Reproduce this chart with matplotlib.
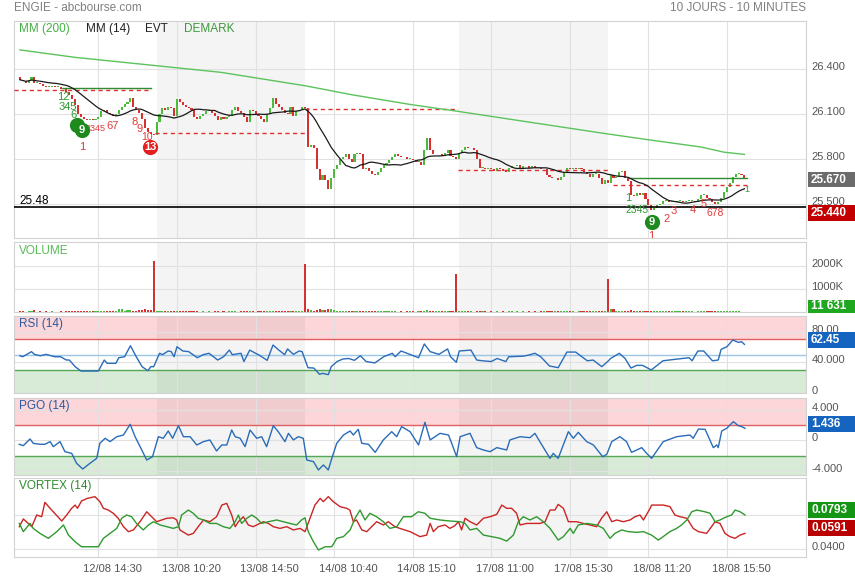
import numpy as np
import pandas as pd
import matplotlib
matplotlib.use("Agg")
import matplotlib.pyplot as plt
from matplotlib.patches import Rectangle
from matplotlib.transforms import ScaledTranslation

plt.rcParams['font.family'] = ['Liberation Sans', 'DejaVu Sans']

# ---------------- data ----------------
first_bar = 6
open0 = 26.35
closes = [
    26.33, 26.32, 26.31, 26.33, 26.35, 26.31, 26.31, 26.30, 26.29, 26.28,
    26.28, 26.29, 26.28, 26.28, 26.27, 26.27, 26.25, 26.23, 26.20, 26.16,
    26.10, 26.08, 26.07, 26.06, 26.07, 26.06, 26.07, 26.08, 26.12, 26.13,
    26.11, 26.10, 26.09, 26.10, 26.13, 26.15, 26.17, 26.18, 26.21, 26.15,
    26.13, 26.11, 26.07, 26.01, 25.98, 25.97, 25.96, 26.05, 26.10, 26.14,
    26.13, 26.15, 26.14, 26.09, 26.20, 26.18, 26.16, 26.15, 26.14, 26.13,
    26.08, 26.07, 26.09, 26.10, 26.12, 26.12, 26.11, 26.09, 26.06, 26.08,
    26.07, 26.08, 26.09, 26.13, 26.15, 26.12, 26.11, 26.08, 26.05, 26.13,
    26.12, 26.10, 26.09, 26.07, 26.05, 26.10, 26.14, 26.21, 26.17, 26.15,
    26.13, 26.11, 26.10, 26.15, 26.09, 26.12, 26.13, 26.15, 26.14, 25.88,
    25.89, 25.87, 25.73, 25.66, 25.69, 25.66, 25.60, 25.67, 25.73, 25.76,
    25.80, 25.81, 25.83, 25.80, 25.78, 25.83, 25.84, 25.83, 25.73, 25.74,
    25.72, 25.70, 25.69, 25.71, 25.74, 25.76, 25.77, 25.79, 25.81, 25.83,
    25.82, 25.81, 25.81, 25.80, 25.80, 25.79, 25.78, 25.78, 25.76, 25.86,
    25.94, 25.86, 25.83, 25.83, 25.83, 25.82, 25.84, 25.86, 25.82, 25.81,
    25.80, 25.84, 25.86, 25.88, 25.87, 25.87, 25.86, 25.80, 25.74, 25.74,
    25.73, 25.74, 25.73, 25.72, 25.74, 25.73, 25.72, 25.71, 25.74, 25.75,
    25.75, 25.76, 25.74, 25.75, 25.75, 25.74, 25.75, 25.74, 25.74, 25.73,
    25.73, 25.69, 25.68, 25.67, 25.67, 25.66, 25.68, 25.71, 25.74, 25.73,
    25.74, 25.73, 25.74, 25.73, 25.71, 25.70, 25.68, 25.70, 25.70, 25.67,
    25.63, 25.66, 25.64, 25.69, 25.67, 25.68, 25.71, 25.72, 25.67, 25.65,
    25.56, 25.55, 25.57, 25.56, 25.57, 25.53, 25.49, 25.46, 25.47, 25.49,
    25.50, 25.52, 25.52, 25.51, 25.51, 25.51, 25.52, 25.52, 25.51, 25.52,
    25.52, 25.52, 25.51, 25.53, 25.56, 25.56, 25.54, 25.53, 25.51, 25.50,
    25.51, 25.54, 25.58, 25.61, 25.64, 25.68, 25.70, 25.70, 25.69, 25.67,
]
volume_k = [
    35, 25, 20, 30, 25, 90, 20, 25, 20, 25,
    20, 25, 15, 20, 25, 20, 30, 35, 45, 55,
    60, 40, 35, 30, 25, 30, 25, 35, 40, 30,
    25, 30, 25, 40, 120, 130, 60, 70, 80, 45,
    55, 70, 85, 110, 95, 80, 2190, 60, 45, 40,
    35, 30, 40, 35, 60, 45, 30, 25, 30, 25,
    35, 25, 20, 25, 20, 25, 20, 30, 25, 20,
    25, 20, 30, 35, 25, 20, 25, 30, 40, 35,
    25, 20, 25, 30, 35, 30, 40, 60, 40, 30,
    25, 30, 25, 35, 40, 25, 30, 35, 2090, 140,
    70, 60, 90, 110, 80, 100, 120, 130, 80, 60,
    50, 45, 40, 35, 30, 40, 35, 30, 50, 35,
    30, 35, 30, 25, 30, 35, 30, 25, 30, 25,
    20, 25, 20, 25, 30, 25, 20, 25, 30, 60,
    70, 50, 35, 30, 25, 30, 25, 30, 25, 30,
    1650, 40, 30, 25, 30, 25, 20, 35, 50, 30,
    25, 20, 25, 20, 25, 20, 25, 20, 30, 25,
    20, 25, 20, 25, 20, 25, 20, 25, 20, 25,
    30, 40, 35, 30, 40, 30, 25, 35, 40, 30,
    25, 20, 25, 30, 25, 30, 35, 30, 25, 40,
    45, 40, 1430, 110, 120, 50, 40, 35, 30, 45,
    70, 50, 40, 35, 30, 35, 45, 50, 40, 35,
    30, 40, 35, 30, 25, 35, 40, 35, 30, 25,
    30, 25, 20, 25, 30, 35, 30, 25, 30, 25,
    30, 35, 40, 45, 35, 30, 25, 30, 20, 11.631,
]

mm200 = [(6, 26.53), (25, 26.48), (50, 26.43), (75, 26.38), (104, 26.29),
         (120, 26.23), (140, 26.165), (156, 26.12), (173, 26.07), (190, 26.02),
         (207, 25.97), (225, 25.92), (240, 25.88), (248, 25.845), (255, 25.83)]

rsi = [(6, 48.6), (7, 47.3), (10, 53.9), (11, 50.4), (13, 48.6), (15, 50.4), (18, 47.3), (20, 47.3),
       (22, 43), (23, 43), (25, 34.3), (27, 28.6), (30, 28.6), (33, 28.6), (35, 43), (36, 38.7),
       (39, 38.7), (40, 46), (42, 47.3), (44, 61.7), (46, 47.3), (48, 34.3), (50, 29), (51, 34.3),
       (52, 34.3), (54, 51.8), (55, 50), (57, 54.8), (58, 54), (59, 47.3), (60, 60.4), (62, 54.8),
       (64, 54), (67, 46), (69, 50), (71, 51.8), (74, 43), (76, 47.3), (78, 56), (79, 50),
       (82, 51.8), (83, 41), (85, 56), (87, 51.8), (88, 50), (91, 42.6), (93, 62.6), (95, 56),
       (97, 50), (98, 57.5), (100, 50.4), (102, 54.8), (103, 54), (105, 33), (107, 32.5), (109, 24.3),
       (110, 25.6), (112, 23.9), (113, 34.3), (115, 41), (117, 44.3), (119, 45), (121, 42.6), (123, 48.6),
       (125, 41), (128, 39.2), (131, 47.3), (134, 51.8), (135, 47.3), (137, 54.8), (140, 50.4), (143, 46),
       (145, 64), (147, 54), (150, 50.4), (153, 57.5), (154, 47.3), (156, 40), (157, 54.8), (161, 56),
       (163, 43), (165, 42), (168, 41), (170, 45), (173, 41), (174, 47.3), (179, 48), (181, 49.6),
       (183, 51.8), (185, 47.3), (188, 35.2), (191, 33), (194, 53.4), (197, 53.4), (201, 42), (203, 43),
       (206, 34.3), (208, 41), (209, 45), (212, 51.8), (214, 45), (216, 32.5), (218, 36), (220, 36),
       (223, 30), (227, 42), (232, 44.3), (236, 46), (237, 42), (239, 54.8), (241, 54.8), (244, 42),
       (246, 43), (247, 57), (249, 60.4), (251, 69.2), (253, 66), (254, 67), (255, 63.5)]

pgo = [(5.8, -0.50), (7.2, -0.68), (9.5, 0.20), (10.6, -0.37), (12.9, -0.50), (14.6, -0.50),
       (16.4, -0.15), (17.5, -0.81), (19.8, -0.15), (21.5, -1.47), (23.8, -1.69), (25.5, -3.0),
       (27.6, -3.75), (30.1, -3.0), (32.4, -2.35), (33.5, -0.37), (35.3, 0.29), (37.0, -0.15),
       (39.3, 0.50), (41.6, 0.72), (43.9, 2.13), (45.6, 0.50), (47.9, -1.25), (49.6, -2.57),
       (51.6, -2.13), (53.6, 0.50), (55.3, 0.29), (57.0, 1.25), (58.5, 0.29), (60.5, 1.95),
       (62.2, 0.50), (64.5, 0.50), (66.8, -0.59), (69.1, -0.15), (71.3, 0.07), (73.6, -1.38),
       (75.4, -0.59), (77.1, -0.59), (78.8, 1.38), (80.0, 0.50), (81.7, 0.29), (83.4, -0.81),
       (85.1, 1.38), (87.4, 0.29), (89.1, 0.50), (90.8, -0.81), (93.1, 1.95), (94.8, 1.16),
       (97.1, -0.15), (98.3, 0.94), (100.0, 0.07), (101.7, 0.50), (103.4, 0.29), (104.6, -2.57),
       (106.9, -2.78), (108.6, -3.88), (110.3, -3.22), (112.0, -3.88), (113.2, -2.35), (114.9, -0.37),
       (117.2, 0.72), (119.5, 1.25), (120.6, 0.72), (122.3, 1.47), (123.5, -0.37), (125.8, -0.50),
       (128.1, -1.56), (130.9, 0.07), (133.8, 1.16), (135.5, 0.50), (137.2, 1.82), (140.1, 1.16),
       (143.0, -0.59), (145.2, 2.39), (147.0, 0.07), (150.4, 0.94), (153.3, 0.72), (154.4, -0.37),
       (156.1, -2.13), (157.3, 0.50), (160.7, 0.94), (163.0, -0.94), (165.3, -1.25), (167.6, -1.47),
       (169.9, -0.94), (173.3, -1.25), (174.4, 0.07), (177.9, 0.50), (181.3, 0.37), (183.0, 0.94),
       (184.7, -0.15), (188.2, -2.35), (189.3, -1.69), (191.0, -2.35), (194.5, 1.16), (196.2, 0.29),
       (197.9, 1.07), (200.8, -0.15), (203.1, -0.59), (206.3, -2.13), (207.7, -1.82), (209.4, -0.15),
       (212.2, 0.50), (214.5, -0.15), (216.2, -1.56), (218.0, -1.25), (219.7, -0.94), (221.4, -1.69),
       (223.1, -2.35), (227.1, -0.15), (231.7, 0.50), (236.3, 0.72), (237.4, 0.29), (239.2, 1.51),
       (241.5, 1.47), (244.3, -0.94), (245.5, -0.59), (246.0, -0.94), (247.2, 1.25), (248.9, 1.60),
       (251.2, 2.48), (252.9, 1.95), (254.1, 1.82), (255.2, 1.60)]

vortex_minus = [
    (5.8, 0.0532), (7.2, 0.0577), (10.1, 0.0532), (11.8, 0.0600), (13.5, 0.0590), (14.6, 0.0674),
    (16.4, 0.0639), (18.7, 0.0596), (20.4, 0.0565), (22.1, 0.0600), (23.8, 0.0639), (25.0, 0.0658),
    (25.8, 0.0639), (27.2, 0.0682), (29.2, 0.0697), (31.8, 0.0707), (33.5, 0.0678), (34.7, 0.0639),
    (36.4, 0.0629), (38.1, 0.0610), (39.8, 0.0581), (41.6, 0.0532), (43.3, 0.0503), (45.0, 0.0513),
    (47.3, 0.0561), (49.6, 0.0619), (51.3, 0.0590), (53.0, 0.0561), (54.7, 0.0571), (56.5, 0.0581),
    (58.7, 0.0584), (59.9, 0.0571), (61.0, 0.0513), (63.9, 0.0483), (65.6, 0.0493), (67.3, 0.0532),
    (69.1, 0.0571), (71.3, 0.0561), (73.6, 0.0590), (75.4, 0.0658), (77.1, 0.0668), (78.8, 0.0600),
    (80.0, 0.0532), (81.1, 0.0561), (82.8, 0.0590), (84.5, 0.0542), (86.2, 0.0532), (89.7, 0.0561),
    (91.4, 0.0551), (93.1, 0.0532), (95.4, 0.0522), (97.7, 0.0532), (100.0, 0.0513), (102.3, 0.0522),
    (104.0, 0.0503), (105.7, 0.0581), (107.4, 0.0658), (109.2, 0.0697), (110.3, 0.0678), (112.0, 0.0707),
    (113.7, 0.0678), (116.0, 0.0649), (118.3, 0.0639), (119.4, 0.0629), (120.6, 0.0561), (121.7, 0.0571),
    (123.5, 0.0513), (125.2, 0.0503), (126.9, 0.0532), (128.6, 0.0561), (130.9, 0.0542), (132.6, 0.0561),
    (134.9, 0.0532), (136.6, 0.0522), (140.1, 0.0503), (143.5, 0.0474), (145.8, 0.0483), (147.0, 0.0551),
    (148.1, 0.0503), (149.8, 0.0532), (152.1, 0.0542), (153.8, 0.0522), (155.5, 0.0538), (156.7, 0.0561),
    (157.8, 0.0513), (159.0, 0.0581), (160.7, 0.0561), (163.0, 0.0542), (165.3, 0.0581), (167.6, 0.0590),
    (169.9, 0.0604), (171.6, 0.0658), (173.3, 0.0639), (175.0, 0.0639), (176.7, 0.0610), (177.9, 0.0542),
    (180.2, 0.0551), (182.5, 0.0551), (184.8, 0.0551), (186.5, 0.0561), (188.2, 0.0629), (189.9, 0.0629),
    (191.0, 0.0662), (192.8, 0.0639), (194.5, 0.0561), (197.4, 0.0561), (199.6, 0.0551), (201.9, 0.0542),
    (204.2, 0.0532), (205.9, 0.0581), (207.7, 0.0619), (209.4, 0.0561), (211.1, 0.0571), (213.4, 0.0561),
    (215.7, 0.0571), (217.4, 0.0590), (219.1, 0.0600), (220.3, 0.0571), (222.6, 0.0639), (223.1, 0.0658),
    (227.1, 0.0658), (229.4, 0.0649), (231.1, 0.0600), (232.9, 0.0590), (235.2, 0.0581), (237.4, 0.0522),
    (239.2, 0.0503), (242.0, 0.0493), (243.7, 0.0532), (244.9, 0.0561), (246.6, 0.0551), (248.3, 0.0493),
    (250.0, 0.0474), (251.8, 0.0464), (253.5, 0.0483), (255.2, 0.0493)]

vortex_plus = [
    (5.8, 0.0551), (7.2, 0.0503), (9.5, 0.0551), (10.6, 0.0522), (12.9, 0.0493), (15.8, 0.0464),
    (18.7, 0.0503), (21.0, 0.0542), (22.7, 0.0483), (25.0, 0.0444), (27.2, 0.0415), (30.1, 0.0415),
    (33.0, 0.0415), (34.7, 0.0464), (37.0, 0.0493), (39.3, 0.0522), (41.0, 0.0581), (42.7, 0.0600),
    (44.4, 0.0590), (46.1, 0.0551), (48.4, 0.0513), (50.2, 0.0542), (51.9, 0.0561), (54.2, 0.0542),
    (56.5, 0.0532), (58.7, 0.0522), (60.5, 0.0532), (61.6, 0.0600), (63.9, 0.0629), (65.6, 0.0610),
    (67.3, 0.0581), (69.1, 0.0571), (71.3, 0.0551), (73.6, 0.0551), (75.9, 0.0532), (78.2, 0.0522),
    (80.0, 0.0561), (81.1, 0.0600), (82.2, 0.0551), (84.0, 0.0581), (85.7, 0.0600), (87.4, 0.0581),
    (89.1, 0.0551), (91.4, 0.0561), (94.3, 0.0571), (96.5, 0.0561), (98.8, 0.0551), (101.1, 0.0542),
    (102.8, 0.0571), (104.0, 0.0584), (105.1, 0.0503), (106.9, 0.0444), (108.6, 0.0396), (110.9, 0.0415),
    (113.2, 0.0415), (114.9, 0.0464), (117.2, 0.0474), (119.5, 0.0513), (121.2, 0.0581), (122.9, 0.0629),
    (124.6, 0.0571), (126.3, 0.0610), (128.6, 0.0590), (130.9, 0.0561), (133.2, 0.0522), (135.5, 0.0532),
    (137.8, 0.0590), (140.6, 0.0590), (142.9, 0.0619), (145.2, 0.0610), (147.0, 0.0581), (150.4, 0.0571),
    (153.8, 0.0565), (157.3, 0.0561), (159.0, 0.0551), (160.7, 0.0513), (163.0, 0.0522), (165.3, 0.0483),
    (168.1, 0.0474), (171.0, 0.0464), (173.3, 0.0448), (175.6, 0.0483), (177.3, 0.0561), (179.0, 0.0590),
    (181.3, 0.0571), (183.6, 0.0590), (185.9, 0.0561), (188.2, 0.0522), (191.0, 0.0454), (192.8, 0.0474),
    (195.1, 0.0522), (196.2, 0.0493), (197.9, 0.0542), (200.8, 0.0551), (204.2, 0.0542), (206.5, 0.0522),
    (208.8, 0.0464), (210.5, 0.0493), (212.8, 0.0513), (215.1, 0.0503), (218.0, 0.0499), (220.3, 0.0503),
    (223.1, 0.0483), (225.4, 0.0454), (227.1, 0.0474), (229.4, 0.0503), (231.7, 0.0522), (233.4, 0.0542),
    (235.2, 0.0571), (236.9, 0.0619), (238.6, 0.0629), (241.4, 0.0619), (243.2, 0.0610), (244.9, 0.0561),
    (246.6, 0.0571), (248.9, 0.0590), (250.6, 0.0600), (251.8, 0.0629), (253.5, 0.0619), (255.2, 0.0600)]

# DeMark lines: (start bar, end bar, price, colour key)
demark_lines = [(21, 51, 26.277, 'g'), (4, 51, 26.262, 'r'), (52.5, 104, 25.972, 'r'),
                (104, 156.5, 26.132, 'r'), (156.5, 208.5, 25.726, 'r'),
                (215.5, 256, 25.670, 'g'), (210, 256, 25.625, 'r')]
# DeMark counts: (bar, price, label, font size)
demark_green_txt = [(21.0, 26.215, '12', 8), (22.6, 26.150, '345', 8), (24.6, 26.092, '6', 8),
                    (215.1, 25.538, '1', 8), (218.2, 25.461, '2345', 7.5), (255.8, 25.592, '1', 6.5)]
demark_red_txt = [(27.5, 25.882, '1', 8), (32.0, 26.004, '2345', 6.5), (37.8, 26.020, '67', 8),
                  (45.5, 26.044, '8', 8), (47.1, 26.000, '9', 8), (49.8, 25.947, '10', 7.5),
                  (222.8, 25.287, '1', 8), (228.4, 25.397, '2', 8), (230.6, 25.451, '3', 8),
                  (237.1, 25.458, '4', 8), (241.1, 25.498, '5', 8), (245.0, 25.440, '678', 7.5)]
demark_green_circles = [(25.6, 26.030, ''), (27.4, 25.994, '9'), (223.1, 25.379, '9')]
demark_red_circles = [(50.7, 25.882, '13')]
support_level = 25.48

tick_bars = [33, 60, 87, 114, 141, 168, 195, 222, 249]
tick_labels = ['12/08 14:30', '13/08 10:20', '13/08 14:50', '14/08 10:40', '14/08 15:10',
               '17/08 11:00', '17/08 15:30', '18/08 11:20', '18/08 15:50']
shaded_days = [(53, 104), (157, 208)]

# ---------------- figure ----------------
W, H = 855, 579
fig = plt.figure(figsize=(W / 100, H / 100), dpi=100)
fig.patch.set_facecolor('white')

def fx(x):
    return x / W

def fy(y):
    return 1 - y / H

def panel(top, bottom):
    return fig.add_axes([fx(14), fy(bottom), fx(806) - fx(14), (bottom - top) / H])

XLIM = (3.99, 276.16)
GREEN = '#4cbb3c'
RED = '#d63030'
LBL = '#555555'

def style(ax, ylim, yticks, ylabels):
    ax.set_xlim(*XLIM)
    ax.set_ylim(*ylim)
    ax.set_xticks(tick_bars)
    ax.set_xticklabels([])
    ax.yaxis.tick_right()
    ax.set_yticks(yticks)
    ax.set_yticklabels(ylabels)
    ax.tick_params(axis='both', length=0, labelsize=8, labelcolor=LBL)
    ax.tick_params(axis='y', pad=4)
    ax.grid(True, color='#e1e1e1', lw=0.8)
    ax.set_axisbelow(True)
    for s in ax.spines.values():
        s.set_color('#d2d2d2')
        s.set_linewidth(0.8)
    off = ScaledTranslation(0, 0.03, fig.dpi_scale_trans)
    for lbl in ax.get_yticklabels():
        lbl.set_transform(lbl.get_transform() + off)
    for a, b in shaded_days:
        ax.axvspan(a, b, color='black', alpha=0.045, lw=0, zorder=0.3)

bars = np.arange(first_bar, first_bar + len(closes))
c = np.array(closes)
o = np.r_[open0, c[:-1]]
up = c >= o
cols = np.where(up, GREEN, RED)

# ---- price panel ----
ax1 = panel(21, 238)
style(ax1, (25.2703, 26.7235), [25.5, 25.8, 26.1, 26.4], ['25.500', '25.800', '26.100', '26.400'])
body = np.maximum(np.abs(c - o), 0.005)
ax1.bar(bars, body, bottom=np.minimum(o, c), width=0.72, color=cols, lw=0, zorder=3)
mm14 = pd.Series(c).rolling(14, min_periods=1).mean()
ax1.plot(bars, mm14, color='#1a1a1a', lw=0.9, zorder=4)
mb, mv = zip(*mm200)
ax1.plot(mb, mv, color='#5cc35c', lw=1.0, zorder=4)
ax1.axhline(support_level, color='black', lw=1.2, zorder=4)
for a, b, p, k in demark_lines:
    if k == 'g':
        ax1.plot([a, b], [p, p], color='#2e8b2e', lw=1.0, zorder=3.5)
    else:
        ax1.plot([a, b], [p, p], color='#e03030', lw=1.0, ls=(0, (3, 2.5)), zorder=3.5)
for g, p, t, fs in demark_green_txt:
    ax1.text(g, p, t, color='#2f9a2f', fontsize=fs, ha='center', va='center', zorder=6)
for g, p, t, fs in demark_red_txt:
    ax1.text(g, p, t, color='#e03a3a', fontsize=fs, ha='center', va='center', zorder=6,
             clip_on=True)
for g, p, t in demark_green_circles:
    ax1.scatter([g], [p], s=120, color='#1e8a1e', zorder=7, lw=0)
    if t:
        ax1.text(g, p, t, color='white', fontsize=8, fontweight='bold', ha='center', va='center', zorder=8)
for g, p, t in demark_red_circles:
    ax1.scatter([g], [p], s=120, color='#e51f1f', zorder=7, lw=0)
    ax1.text(g, p, t, color='white', fontsize=8, fontweight='bold', ha='center', va='center', zorder=8)
ax1.text(fx(19 - 14) / (fx(806) - fx(14)), support_level, '25.48', transform=ax1.get_yaxis_transform(),
         fontsize=8.5, color='black', va='bottom', ha='left', zorder=6)

# ---- volume panel ----
ax2 = panel(242, 312)
style(ax2, (0, 3020), [1000, 2000], ['1000K', '2000K'])
ax2.bar(bars, volume_k, width=0.72, color=cols, lw=0, zorder=3)

# ---- RSI panel ----
ax3 = panel(315.5, 393.3)
style(ax3, (-0.5, 101.2), [0, 40, 80], ['0', '40.000', '80.00'])
ax3.axhspan(70, 110, color='#fcd6d8', lw=0, zorder=0.2)
ax3.axhspan(-5, 30, color='#d7ebd6', lw=0, zorder=0.2)
ax3.axhline(70, color='#e06060', lw=1.0, zorder=2)
ax3.axhline(30, color='#55a655', lw=1.0, zorder=2)
ax3.axhline(50, color='#9cc6e6', lw=1.0, zorder=2)
rb, rv = zip(*rsi)
ax3.plot(rb, rv, color='#2a6cb8', lw=1.0, zorder=4)

# ---- PGO panel ----
ax4 = panel(397.7, 475)
style(ax4, (-4.54, 5.63), [-4, 0, 4], ['-4.000', '0', '4.000'])
ax4.axhspan(2, 10, color='#fcd6d8', lw=0, zorder=0.2)
ax4.axhspan(-10, -2, color='#d7ebd6', lw=0, zorder=0.2)
ax4.axhline(2, color='#e06060', lw=1.0, zorder=2)
ax4.axhline(-2, color='#55a655', lw=1.0, zorder=2)
pb, pv = zip(*pgo)
ax4.plot(pb, pv, color='#2a6cb8', lw=1.0, zorder=4)

# ---- Vortex panel ----
ax5 = panel(478.3, 556.7)
style(ax5, (0.0357, 0.0814), [0.04, 0.06], ['0.0400', ''])
vb, vv = zip(*vortex_minus)
ax5.plot(vb, vv, color='#cc2424', lw=1.0, zorder=4)
vb, vv = zip(*vortex_plus)
ax5.plot(vb, vv, color='#2e9a2e', lw=1.0, zorder=4)
ax5.set_xticklabels(tick_labels)
ax5.tick_params(axis='x', pad=5, labelsize=8, labelcolor=LBL)
offx = ScaledTranslation(0.14, 0, fig.dpi_scale_trans)
for lbl in ax5.get_xticklabels():
    lbl.set_transform(lbl.get_transform() + offx)

# ---------------- texts ----------------
fig.text(fx(14), fy(8), 'ENGIE - abcbourse.com', color='#808080', fontsize=8.5, va='center', ha='left')
fig.text(fx(806), fy(8), '10 JOURS - 10 MINUTES', color='#808080', fontsize=8.5, va='center', ha='right')
fig.text(fx(19), fy(29), 'MM (200)', color='#44b044', fontsize=8.5, va='center')
fig.text(fx(86), fy(29), 'MM (14)', color='#222222', fontsize=8.5, va='center')
fig.text(fx(145), fy(29), 'EVT', color='#222222', fontsize=8.5, va='center')
fig.text(fx(184), fy(29), 'DEMARK', color='#3a9a3a', fontsize=8.5, va='center')
fig.text(fx(19), fy(250.5), 'VOLUME', color='#55bb55', fontsize=8.5, va='center')
fig.text(fx(19), fy(323.5), 'RSI (14)', color='#2a5aa0', fontsize=8.5, va='center')
fig.text(fx(19), fy(405.5), 'PGO (14)', color='#2a5aa0', fontsize=8.5, va='center')
fig.text(fx(19), fy(486.5), 'VORTEX (14)', color='#2e8b2e', fontsize=8.5, va='center')

def value_box(y0, y1, colour, text):
    fig.patches.append(Rectangle((fx(808), fy(y1)), fx(855) - fx(808), (y1 - y0) / H,
                                 transform=fig.transFigure, color=colour, lw=0, zorder=5))
    fig.text(fx(811), fy((y0 + y1) / 2), text, color='white', fontsize=8.5, fontweight='bold',
             va='center', ha='left', zorder=6)

value_box(171.7, 187.3, '#6b6b6b', f'{closes[-1]:.3f}')
value_box(205, 220.7, '#c20000', '25.440')
value_box(299.5, 312.5, '#1fa81f', '11 631')
value_box(332.3, 348.3, '#1565c0', '62.45')
value_box(415.7, 431.7, '#1565c0', '1.436')
value_box(502.3, 518.3, '#149614', '0.0793')
value_box(520, 535.7, '#b80000', '0.0591')

fig.savefig('out.png', dpi=100, facecolor='white')
